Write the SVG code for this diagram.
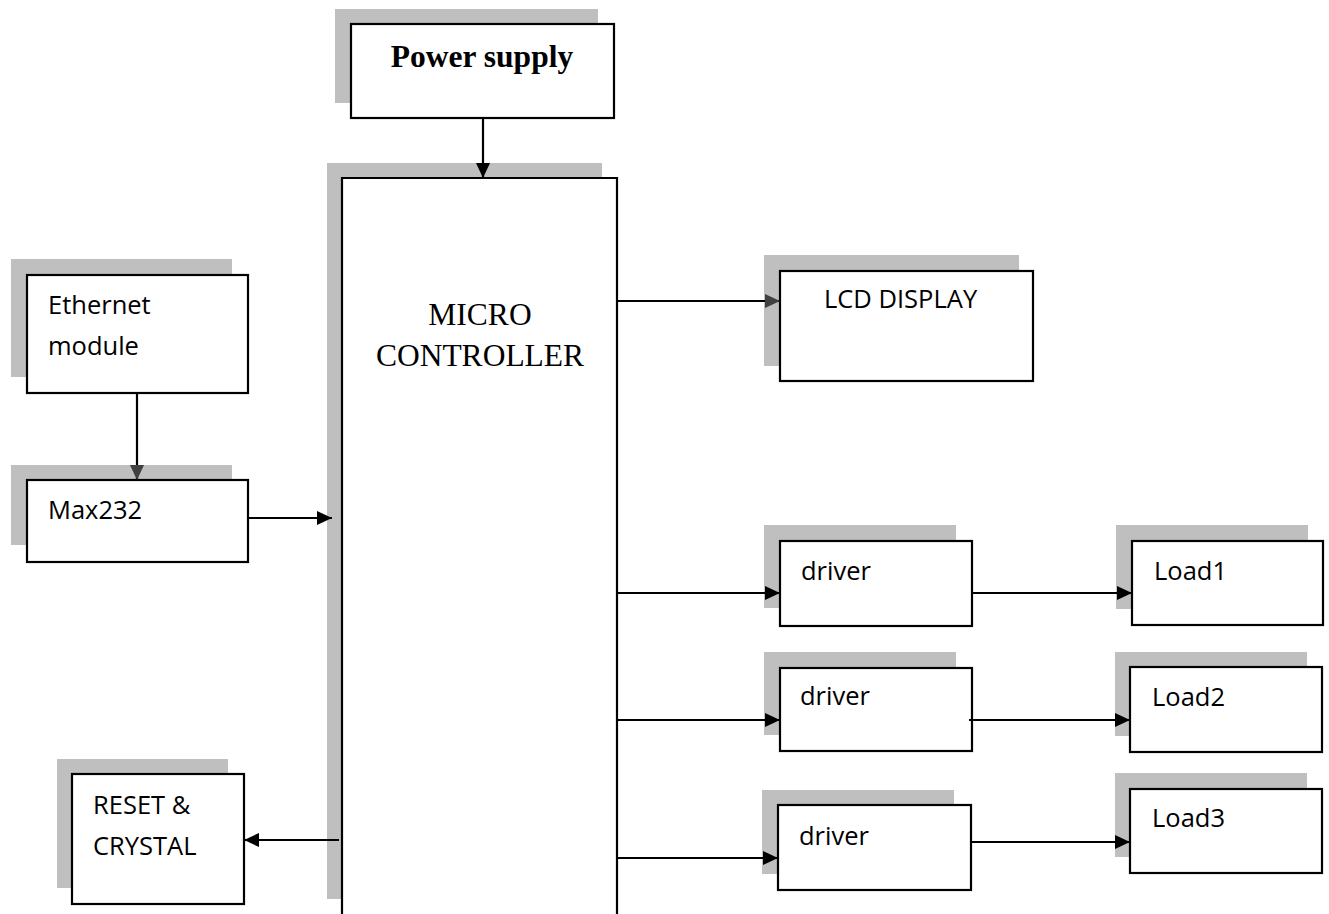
<svg xmlns="http://www.w3.org/2000/svg" width="1329" height="914" viewBox="0 0 1329 914">
<defs>
<style>
.sh{fill:#bfbfbf;stroke:none}
.bx{fill:#fff;stroke:#000;stroke-width:2.2}
.t{font-family:"Open Sans","Liberation Sans",sans-serif;font-size:25.5px;fill:#000}
.s{font-family:"Liberation Serif","Times New Roman",serif;font-size:31.5px;fill:#000}
.c{fill:none;stroke:#000;stroke-width:2.2}
</style>
<marker id="ah" markerUnits="userSpaceOnUse" markerWidth="16" markerHeight="16" viewBox="0 0 16 16" refX="15" refY="8" orient="auto">
<path d="M0,1 L15,8 L0,15 Z" fill="#000"/>
</marker>
<marker id="ag" markerUnits="userSpaceOnUse" markerWidth="16" markerHeight="16" viewBox="0 0 16 16" refX="15" refY="8" orient="auto">
<path d="M0,1 L15,8 L0,15 Z" fill="#404040"/>
</marker>
</defs>
<rect width="1329" height="914" fill="#fff"/>

<g id="power-supply">
<rect class="sh" x="335" y="9" width="263" height="94"/>
<rect class="bx" x="351" y="24" width="263" height="94"/>
<text class="s" x="482" y="67" text-anchor="middle" font-weight="bold">Power supply</text>
</g>

<g id="micro-controller">
<path class="sh" d="M327,163 H602 V178 H342 V899 H327 Z"/>
<path class="bx" d="M342,916 V178 H617 V916"/>
<text class="s" x="480" y="325" text-anchor="middle">MICRO</text>
<text class="s" x="480" y="366" text-anchor="middle">CONTROLLER</text>
</g>

<g id="ethernet-module">
<rect class="sh" x="11" y="259" width="221" height="118"/>
<rect class="bx" x="27" y="275" width="221" height="118"/>
<text class="t" x="48" y="314">Ethernet</text>
<text class="t" x="48" y="355">module</text>
</g>

<g id="max232">
<rect class="sh" x="11" y="465" width="221" height="80"/>
<rect class="bx" x="27" y="480" width="221" height="82"/>
<text class="t" x="48" y="519">Max232</text>
</g>

<g id="reset-crystal">
<rect class="sh" x="57" y="759" width="171" height="129"/>
<rect class="bx" x="72" y="774" width="172" height="130"/>
<text class="t" x="93" y="814">RESET &amp;</text>
<text class="t" x="93" y="855">CRYSTAL</text>
</g>

<g id="lcd-display">
<rect class="sh" x="764" y="255" width="255" height="111"/>
<rect class="bx" x="780" y="271" width="253" height="110"/>
<text class="t" x="824" y="308">LCD DISPLAY</text>
</g>

<g id="driver1">
<rect class="sh" x="764" y="525" width="192" height="83"/>
<rect class="bx" x="780" y="541" width="192" height="85"/>
<text class="t" x="801" y="580">driver</text>
</g>

<g id="driver2">
<rect class="sh" x="764" y="652" width="192" height="83"/>
<rect class="bx" x="780" y="668" width="192" height="83"/>
<text class="t" x="800" y="705">driver</text>
</g>

<g id="driver3">
<rect class="sh" x="762" y="790" width="192" height="84"/>
<rect class="bx" x="778" y="805" width="193" height="85"/>
<text class="t" x="799" y="845">driver</text>
</g>

<g id="load1">
<rect class="sh" x="1116" y="525" width="192" height="84"/>
<rect class="bx" x="1132" y="541" width="191" height="84"/>
<text class="t" x="1154" y="580">Load1</text>
</g>

<g id="load2">
<rect class="sh" x="1115" y="652" width="192" height="84"/>
<rect class="bx" x="1130" y="667" width="192" height="85"/>
<text class="t" x="1152" y="706">Load2</text>
</g>

<g id="load3">
<rect class="sh" x="1115" y="773" width="192" height="84"/>
<rect class="bx" x="1130" y="789" width="192" height="84"/>
<text class="t" x="1152" y="827">Load3</text>
</g>

<g id="connectors">
<line class="c" x1="483" y1="118" x2="483" y2="178" marker-end="url(#ah)"/>
<line class="c" x1="137" y1="393" x2="137" y2="480" marker-end="url(#ag)"/>
<line class="c" x1="248" y1="518" x2="332" y2="518" marker-end="url(#ah)"/>
<line class="c" x1="339" y1="840" x2="244" y2="840" marker-end="url(#ah)"/>
<line class="c" x1="617" y1="301" x2="780" y2="301" marker-end="url(#ag)"/>
<line class="c" x1="617" y1="593" x2="780" y2="593" marker-end="url(#ah)"/>
<line class="c" x1="617" y1="720" x2="780" y2="720" marker-end="url(#ah)"/>
<line class="c" x1="617" y1="858" x2="778" y2="858" marker-end="url(#ah)"/>
<line class="c" x1="972" y1="593" x2="1132" y2="593" marker-end="url(#ah)"/>
<line class="c" x1="969" y1="720" x2="1130" y2="720" marker-end="url(#ah)"/>
<line class="c" x1="971" y1="842" x2="1130" y2="842" marker-end="url(#ah)"/>
</g>
</svg>
